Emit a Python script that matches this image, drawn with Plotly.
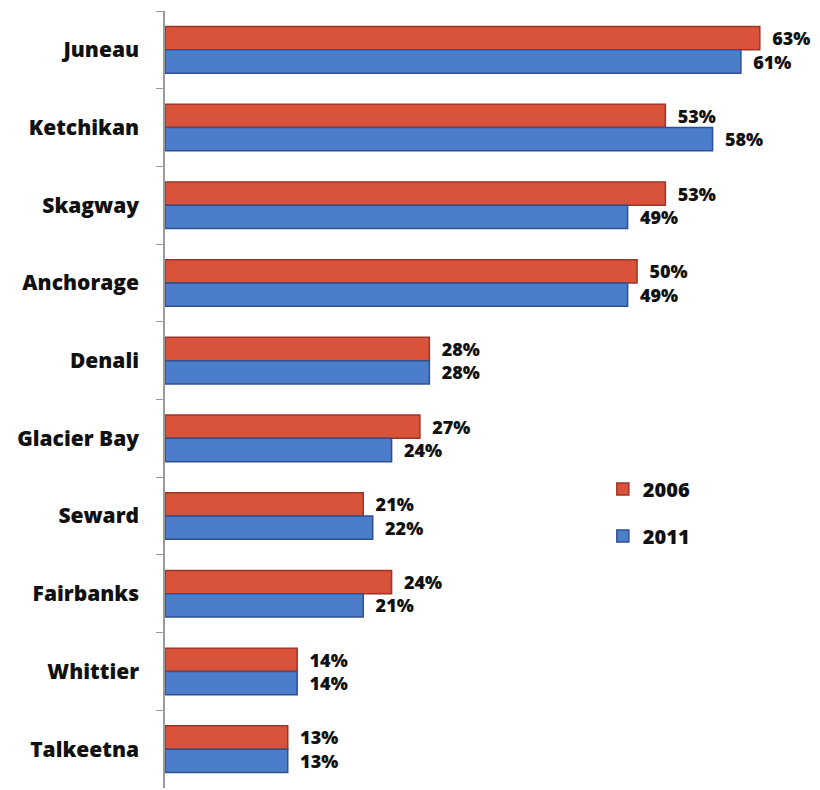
import plotly.graph_objects as go

# Share of visitors by destination, 2006 vs 2011
destinations = ["Juneau", "Ketchikan", "Skagway", "Anchorage", "Denali",
                "Glacier Bay", "Seward", "Fairbanks", "Whittier", "Talkeetna"]
share_2006 = [63, 53, 53, 50, 28, 27, 21, 24, 14, 13]
share_2011 = [61, 58, 49, 49, 28, 24, 22, 21, 14, 13]

label_font = dict(family="Open Sans", size=18, color="#111111", weight=800)

fig = go.Figure()
fig.add_trace(go.Bar(
    name="2006", y=destinations, x=share_2006, orientation="h",
    marker=dict(color="#D9523A", line=dict(color="#9E3526", width=1.5)),
    text=share_2006, texttemplate="\u00a0\u00a0%{x}%", textposition="outside",
    textfont=label_font, cliponaxis=False, legendgroup="a",
    constraintext="none",
))
fig.add_trace(go.Bar(
    name="2011", y=destinations, x=share_2011, orientation="h",
    marker=dict(color="#4C7DCB", line=dict(color="#30508F", width=1.5)),
    text=share_2011, texttemplate="\u00a0\u00a0%{x}%", textposition="outside",
    textfont=label_font, cliponaxis=False, legendgroup="b",
    constraintext="none",
))

fig.update_layout(
    width=820, height=790,
    margin=dict(l=165, r=13, t=11, b=2),
    paper_bgcolor="white", plot_bgcolor="white",
    barmode="group", bargap=0.4, bargroupgap=0,
    showlegend=True,
    legend=dict(x=0.682, y=0.41, xanchor="left", yanchor="top",
                font=dict(family="Open Sans", size=20, color="#111111", weight=800),
                traceorder="grouped", tracegroupgap=18,
                bgcolor="rgba(0,0,0,0)"),
    xaxis=dict(range=[0, 68], visible=False),
    yaxis=dict(autorange="reversed", type="category",
               showline=True, linecolor="#9a9a9a", linewidth=1.5,
               ticks="outside", tickson="boundaries", ticklen=7,
               tickcolor="#9a9a9a", showgrid=False,
               tickfont=dict(family="Open Sans", size=21, color="#111111", weight=800),
               ticklabelstandoff=20),
)

fig.write_html("out.html")
